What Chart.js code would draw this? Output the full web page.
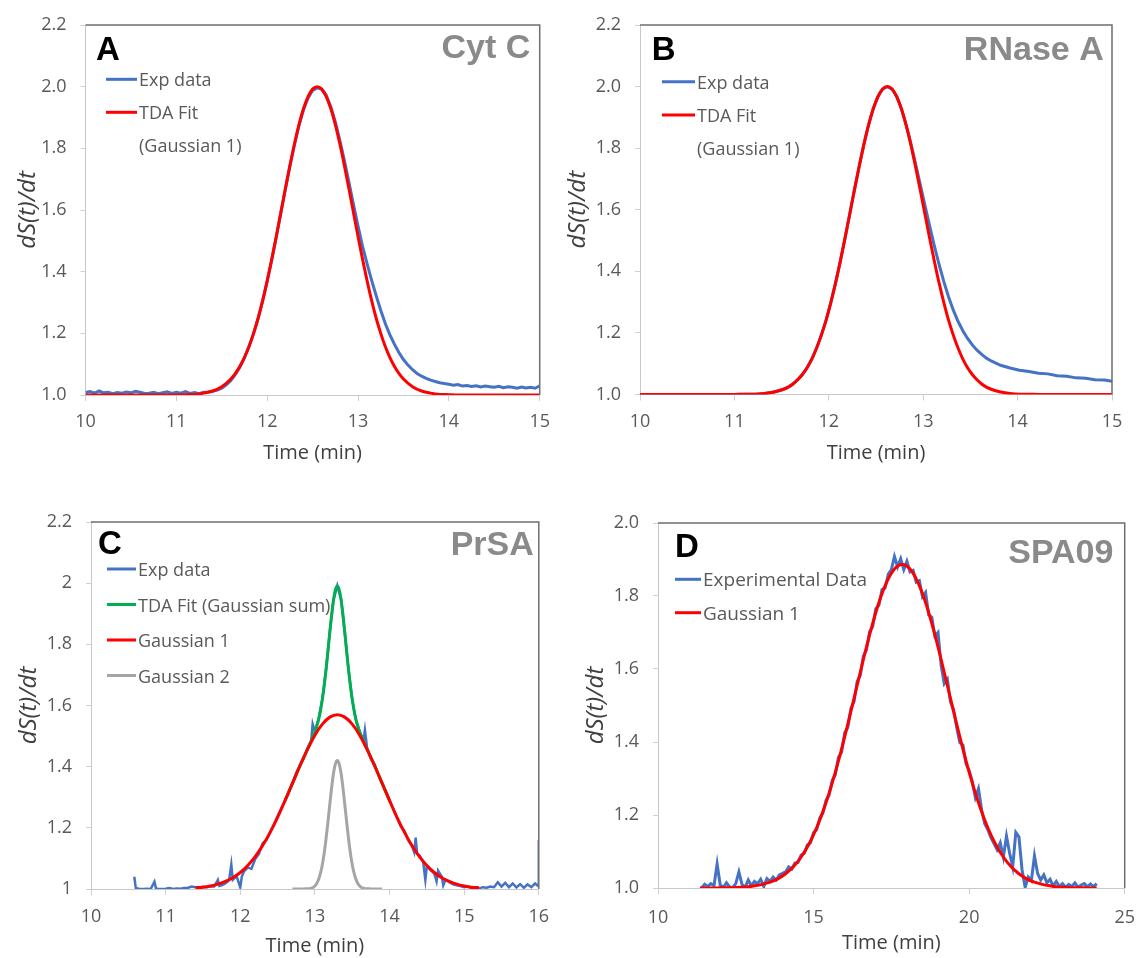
<!DOCTYPE html>
<html>
<head>
<meta charset="utf-8">
<title>TDA - dS(t)/dt</title>
<script src="https://cdn.jsdelivr.net/npm/chart.js@4.4.1/dist/chart.umd.min.js"></script>
<style>
  body { margin: 0; background: #fff; }
  #figura { position: relative; width: 1148px; height: 958px; overflow: hidden; }
  #figura canvas { position: absolute; }
</style>
</head>
<body>
<div id="figura">
  <canvas id="panelA" width="560" height="479" style="left:0;top:0"></canvas>
  <canvas id="panelB" width="588" height="479" style="left:560px;top:0"></canvas>
  <canvas id="panelC" width="560" height="479" style="left:0;top:479px"></canvas>
  <canvas id="panelD" width="588" height="479" style="left:560px;top:479px"></canvas>
</div>
<script>
// Panel A - Cyt C
var timeExpA = [10.00,10.05,10.10,10.15,10.20,10.25,10.30,10.35,10.40,10.45,10.50,10.55,10.60,10.65,10.70,10.75,10.80,10.85,10.90,10.95,
  11.00,11.05,11.10,11.15,11.20,11.25,11.30,11.35,11.40,11.45,11.50,11.55,11.60,11.65,11.70,11.75,11.80,11.85,11.90,11.95,
  12.00,12.05,12.10,12.15,12.20,12.25,12.30,12.35,12.40,12.45,12.50,12.55,12.60,12.65,12.70,12.75,12.80,12.85,12.90,12.95,
  13.00,13.05,13.10,13.15,13.20,13.25,13.30,13.35,13.40,13.45,13.50,13.55,13.60,13.65,13.70,13.75,13.80,13.85,13.90,13.95,
  14.00,14.05,14.10,14.15,14.20,14.25,14.30,14.35,14.40,14.45,14.50,14.55,14.60,14.65,14.70,14.75,14.80,14.85,14.90,14.95,15.00];
var expA = [1.008,1.011,1.006,1.013,1.007,1.009,1.004,1.008,1.006,1.010,1.007,1.012,1.009,1.005,1.006,1.009,1.004,1.007,1.010,1.005,
  1.009,1.006,1.011,1.005,1.008,1.004,1.009,1.010,1.012,1.016,1.022,1.033,1.047,1.067,1.091,1.121,1.157,1.199,1.248,1.305,
  1.368,1.438,1.512,1.590,1.667,1.742,1.811,1.874,1.925,1.963,1.988,1.996,1.992,1.972,1.935,1.886,1.826,1.760,1.690,1.618,
  1.548,1.482,1.425,1.372,1.322,1.275,1.232,1.196,1.165,1.138,1.115,1.097,1.082,1.070,1.061,1.054,1.048,1.044,1.040,1.037,
  1.035,1.032,1.034,1.029,1.031,1.028,1.030,1.026,1.029,1.027,1.025,1.028,1.024,1.027,1.025,1.022,1.026,1.023,1.025,1.022,1.030];
var timeFitA = [10.0,10.5,11.0,11.1,11.2,11.3,11.4,11.5,
  11.6,11.65,11.7,11.75,11.8,11.85,11.9,11.95,12.0,12.05,12.1,12.15,12.2,12.25,12.3,12.35,12.4,12.45,12.5,
  12.55,12.6,12.65,12.7,12.75,12.8,12.85,12.9,12.95,13.0,13.05,13.1,13.15,13.2,13.25,13.3,13.35,13.4,13.45,13.5,
  13.6,13.7,13.8,13.9,14.0,14.1,15.0];
var fitA = [1.000,1.000,1.000,1.001,1.002,1.006,1.013,1.027,
  1.052,1.070,1.093,1.122,1.157,1.200,1.249,1.306,1.370,1.440,1.514,1.591,1.669,1.744,1.814,1.877,1.929,1.968,1.992,
  2.000,1.992,1.968,1.929,1.877,1.814,1.744,1.669,1.591,1.514,1.440,1.370,1.306,1.249,1.200,1.157,1.122,1.093,1.070,1.052,
  1.027,1.013,1.006,1.002,1.001,1.000,1.000];

// Panel B - RNase A
var timeExpB = [10.0,10.5,11.0,11.12,11.22,11.32,11.42,11.52,
  11.57,11.62,11.67,11.72,11.77,11.82,11.87,11.92,11.97,12.02,12.07,12.12,12.17,12.22,12.27,12.32,12.37,12.42,12.47,12.52,12.57,
  12.62,12.67,12.72,12.77,12.82,
  12.87,12.92,12.97,13.02,13.07,13.12,13.17,13.22,13.27,13.32,13.37,13.42,13.47,13.52,13.57,13.62,13.67,13.72,
  13.82,13.92,14.02,14.12,14.22,14.32,14.42,14.52,14.62,14.72,14.82,14.92,15.0];
var expB = [1.000,1.000,1.000,1.001,1.001,1.003,1.008,1.017,
  1.024,1.034,1.048,1.065,1.087,1.115,1.150,1.192,1.240,1.297,1.360,1.430,1.505,1.583,1.662,1.738,1.810,1.874,1.927,1.967,1.992,
  2.000,1.992,1.967,1.927,1.874,
  1.815,1.748,1.680,1.612,1.545,1.480,1.420,1.365,1.316,1.273,1.237,1.207,1.182,1.161,1.144,1.130,1.118,1.109,
  1.095,1.086,1.079,1.075,1.069,1.067,1.061,1.059,1.054,1.053,1.048,1.047,1.043];
var timeFitB = [10.0,11.0,11.12,11.22,11.32,11.42,11.52,
  11.57,11.62,11.67,11.72,11.77,11.82,11.87,11.92,11.97,12.02,12.07,12.12,12.17,12.22,12.27,12.32,12.37,12.42,12.47,12.52,12.57,
  12.62,12.67,12.72,12.77,12.82,12.87,12.92,12.97,13.02,13.07,13.12,13.17,13.22,13.27,13.32,13.37,13.42,13.47,13.52,13.57,13.62,13.67,
  13.72,13.82,13.92,14.02,14.12,14.22,15.0];
var fitB = [1.000,1.000,1.001,1.001,1.003,1.008,1.017,
  1.024,1.034,1.048,1.065,1.087,1.115,1.150,1.192,1.240,1.297,1.360,1.430,1.505,1.583,1.662,1.738,1.810,1.874,1.927,1.967,1.992,
  2.000,1.992,1.967,1.927,1.874,1.810,1.738,1.662,1.583,1.505,1.430,1.360,1.297,1.240,1.192,1.150,1.115,1.087,1.065,1.048,1.034,1.024,
  1.017,1.008,1.003,1.001,1.001,1.000,1.000];

// Panel C - PrSA
var timeExpC = [10.58,10.60,10.65,10.70,10.75,10.80,10.85,10.87,10.90,10.95,11.00,11.05,11.10,11.15,11.20,11.25,11.30,11.35,11.40,11.45,
  11.50,11.55,11.60,11.65,11.70,11.72,11.75,11.80,11.85,11.88,11.90,11.95,12.00,12.02,12.05,12.10,12.15,12.20,12.25,12.30,
  12.35,12.40,12.45,12.50,12.55,12.60,12.65,12.70,12.75,12.80,12.85,12.90,12.95,12.97,13.00,13.05,13.10,13.15,13.20,13.25,
  13.30,13.35,13.40,13.45,13.50,13.55,13.60,13.65,13.67,13.70,13.75,13.80,13.85,13.90,13.95,14.00,14.05,14.10,14.15,14.20,
  14.25,14.30,14.33,14.35,14.37,14.40,14.45,14.48,14.50,14.55,14.60,14.63,14.65,14.70,14.72,14.75,14.80,14.85,14.90,14.95,
  15.00,15.05,15.10,15.15,15.20,15.25,15.30,15.35,15.40,15.45,15.50,15.55,15.60,15.65,15.70,15.75,15.80,15.85,15.90,15.95,15.99,16.00];
var expC = [1.040,1.003,1.000,1.000,1.001,1.000,1.024,1.002,1.000,1.000,1.001,1.003,1.000,1.002,1.001,1.003,1.004,1.008,1.006,1.004,
  1.007,1.006,1.009,1.008,1.030,1.010,1.012,1.018,1.028,1.080,1.030,1.042,1.005,1.040,1.058,1.070,1.066,1.098,1.115,1.150,
  1.160,1.185,1.210,1.238,1.265,1.290,1.316,1.345,1.380,1.405,1.428,1.460,1.485,1.540,1.515,1.558,1.622,1.720,1.842,1.945,
  1.992,1.948,1.838,1.718,1.620,1.552,1.515,1.484,1.520,1.460,1.425,1.408,1.375,1.345,1.320,1.292,1.262,1.234,1.205,1.190,
  1.160,1.140,1.120,1.168,1.115,1.110,1.090,1.030,1.075,1.062,1.050,1.025,1.060,1.040,1.012,1.030,1.022,1.015,1.012,1.010,
  1.006,1.008,1.003,1.005,1.002,1.006,1.004,1.008,1.006,1.022,1.008,1.020,1.006,1.018,1.005,1.016,1.004,1.015,1.006,1.018,1.010,1.160];
var timeSumC = [12.6,12.7,12.8,12.85,12.9,12.95,13.0,13.025,13.05,13.075,13.1,13.125,13.15,13.175,13.2,13.225,13.25,13.275,
  13.3,13.325,13.35,13.375,13.4,13.425,13.45,13.475,13.5,13.525,13.55,13.575,13.6,13.65,13.7,13.75,13.8,13.9,14.0];
var sumC = [1.289,1.346,1.403,1.430,1.457,1.484,1.513,1.532,1.554,1.583,1.620,1.665,1.718,1.778,1.840,1.899,1.947,1.979,
  1.990,1.979,1.947,1.899,1.840,1.778,1.718,1.665,1.620,1.583,1.554,1.532,1.513,1.484,1.457,1.430,1.403,1.346,1.289];
var timeG1C = [11.4,11.5,11.6,11.7,11.8,11.9,12.0,12.1,12.2,12.3,12.4,12.5,12.6,12.7,12.8,12.9,13.0,13.1,13.2,
  13.3,13.4,13.5,13.6,13.7,13.8,13.9,14.0,14.1,14.2,14.3,14.4,14.5,14.6,14.7,14.8,14.9,15.0,15.1,15.2];
var g1C = [1.004,1.006,1.010,1.016,1.025,1.037,1.054,1.077,1.106,1.142,1.185,1.234,1.289,1.346,1.403,1.456,1.503,1.539,1.562,
  1.570,1.562,1.539,1.503,1.456,1.403,1.346,1.289,1.234,1.185,1.142,1.106,1.077,1.054,1.037,1.025,1.016,1.010,1.006,1.004];
var timeG2C = [12.7,12.8,12.85,12.9,12.925,12.95,12.975,13.0,13.025,13.05,13.075,13.1,13.125,13.15,13.175,13.2,13.225,13.25,13.275,
  13.3,13.325,13.35,13.375,13.4,13.425,13.45,13.475,13.5,13.525,13.55,13.575,13.6,13.625,13.65,13.675,13.7,13.75,13.8,13.9];
var g2C = [1.000,1.000,1.000,1.001,1.001,1.003,1.005,1.010,1.018,1.032,1.052,1.080,1.118,1.166,1.220,1.278,1.333,1.379,1.409,
  1.420,1.409,1.379,1.333,1.278,1.220,1.166,1.118,1.080,1.052,1.032,1.018,1.010,1.005,1.003,1.001,1.001,1.000,1.000,1.000];

// Panel D - SPA09
var timeExpD = [11.4,11.5,11.6,11.7,11.8,11.9,12.0,12.1,12.2,12.3,12.4,12.5,12.6,12.7,12.8,12.9,13.0,13.1,13.2,13.3,
  13.4,13.5,13.6,13.7,13.8,13.9,14.0,14.1,14.2,14.3,14.4,14.5,14.6,14.7,14.8,14.9,15.0,15.1,15.2,15.3,
  15.4,15.5,15.6,15.7,15.8,15.9,16.0,16.1,16.2,16.3,16.4,16.5,16.6,16.7,16.8,16.9,17.0,17.1,17.2,17.3,
  17.4,17.5,17.6,17.7,17.8,17.9,18.0,18.1,18.2,18.3,18.4,18.5,18.6,18.7,18.8,18.9,19.0,19.1,19.2,19.3,
  19.4,19.5,19.6,19.7,19.8,19.9,20.0,20.1,20.2,20.3,20.4,20.5,20.6,20.7,20.8,20.9,21.0,21.1,21.2,21.3,
  21.4,21.5,21.6,21.7,21.8,21.9,22.0,22.1,22.2,22.3,22.4,22.5,22.6,22.7,22.8,22.9,23.0,23.1,23.2,23.3,
  23.4,23.5,23.6,23.7,23.8,23.9,24.0,24.1];
var expD = [1.000,1.010,1.004,1.012,1.006,1.066,1.008,1.002,1.014,1.003,1.001,1.012,1.044,1.010,1.002,1.022,1.006,1.018,1.012,1.024,
  1.004,1.026,1.018,1.030,1.022,1.036,1.040,1.044,1.058,1.052,1.068,1.070,1.090,1.095,1.118,1.124,1.152,1.160,1.192,1.205,
  1.240,1.255,1.295,1.310,1.358,1.372,1.425,1.440,1.492,1.510,1.566,1.582,1.635,1.652,1.702,1.716,1.765,1.775,1.818,1.822,
  1.860,1.872,1.908,1.880,1.902,1.872,1.895,1.866,1.870,1.838,1.842,1.798,1.810,1.748,1.742,1.690,1.700,1.610,1.560,1.572,
  1.510,1.488,1.440,1.398,1.392,1.340,1.322,1.292,1.248,1.272,1.215,1.176,1.160,1.138,1.122,1.105,1.124,1.085,1.142,1.096,
  1.058,1.152,1.140,1.050,1.002,1.030,1.020,1.088,1.040,1.022,1.036,1.014,1.024,1.006,1.018,1.004,1.012,1.002,1.010,1.004,
  1.014,1.002,1.008,1.012,1.003,1.011,1.004,1.012];
var timeFitD = [11.35,11.6,11.85,12.1,12.35,12.6,12.85,13.1,13.35,13.6,13.85,14.1,14.35,14.6,14.85,15.1,15.35,15.6,15.85,16.1,
  16.35,16.6,16.85,17.1,17.35,17.6,17.85,18.1,18.35,18.6,18.85,19.1,19.35,19.6,19.85,20.1,20.35,20.6,20.85,21.1,
  21.35,21.6,21.85,22.1,22.35,22.6,22.85,23.1,23.35,23.6,23.85,24.1];
var fitD = [1.000,1.000,1.000,1.001,1.001,1.002,1.003,1.006,1.010,1.016,1.025,1.039,1.058,1.085,1.120,1.165,1.221,1.288,1.364,1.449,
  1.537,1.626,1.709,1.782,1.838,1.874,1.886,1.874,1.838,1.782,1.709,1.626,1.537,1.449,1.364,1.288,1.221,1.165,1.120,1.085,
  1.058,1.039,1.025,1.016,1.010,1.006,1.003,1.002,1.001,1.001,1.000,1.000];

var AZUL = '#4472c4';
var ROJO = '#ff0000';
var VERDE = '#00b050';
var GRIS = '#a5a5a5';
var TEXTO = '#595959';

Chart.defaults.font.family = '"Open Sans", "DejaVu Sans", sans-serif';

function puntos(xs, ys) {
    var r = [];
    for (var i = 0; i < xs.length; i++) {
        r.push({ x: xs[i], y: ys[i] });
    }
    return r;
}

function serie(label, xs, ys, color, orden, ancho, suave) {
    return {
        label: label,
        data: puntos(xs, ys),
        borderColor: color,
        backgroundColor: color,
        borderWidth: ancho,
        pointRadius: 0,
        fill: false,
        order: orden,
        tension: 0,
        cubicInterpolationMode: suave ? 'monotone' : 'default'
    };
}

// marco superior/derecho, letra, titulo y leyenda dentro del area
var decor = {
    id: 'decor',
    afterDraw: function(chart, args, o) {
        var ctx = chart.ctx;
        var a = chart.chartArea;
        ctx.save();
        ctx.strokeStyle = '#6e6e6e';
        ctx.lineWidth = 1.5;
        ctx.beginPath();
        ctx.moveTo(a.left, a.top);
        ctx.lineTo(a.right, a.top);
        ctx.lineTo(a.right, a.bottom);
        ctx.stroke();

        ctx.textBaseline = 'alphabetic';
        ctx.fillStyle = '#000';
        ctx.font = 'bold 33px "Liberation Sans", Arial, sans-serif';
        ctx.textAlign = 'left';
        ctx.fillText(o.letter, a.left + o.letterX, a.top + o.letterY);

        ctx.fillStyle = '#8a8a8a';
        ctx.font = 'bold 34px "Liberation Sans", Arial, sans-serif';
        ctx.textAlign = 'right';
        ctx.fillText(o.title, a.right - o.titleX, a.top + o.titleY);

        ctx.font = o.legSize + 'px "Open Sans", sans-serif';
        ctx.textAlign = 'left';
        var y = a.top + o.legY;
        var x0 = a.left + o.legX;
        var ds = chart.data.datasets;
        for (var i = 0; i < ds.length; i++) {
            ctx.strokeStyle = ds[i].borderColor;
            ctx.lineWidth = 3;
            ctx.beginPath();
            ctx.moveTo(x0, y);
            ctx.lineTo(x0 + o.legLen, y);
            ctx.stroke();
            ctx.fillStyle = TEXTO;
            var lineas = ds[i].label.split('\n');
            for (var k = 0; k < lineas.length; k++) {
                ctx.fillText(lineas[k], x0 + o.legLen + 2, y + 7 + k * o.legGap);
            }
            y += o.legGap * lineas.length;
        }
        ctx.restore();
    }
};

function crearPanel(id, datasets, p) {
    new Chart(document.getElementById(id), {
        type: 'line',
        data: { datasets: datasets },
        options: {
            responsive: false,
            animation: false,
            devicePixelRatio: 1,
            layout: { padding: { left: 0, top: p.top, right: p.right, bottom: 0 } },
            plugins: {
                legend: { display: false },
                tooltip: { enabled: false },
                decor: p.decor
            },
            scales: {
                x: {
                    type: 'linear',
                    min: p.xMin,
                    max: p.xMax,
                    afterFit: function(s) { s.height = p.xHeight; },
                    ticks: {
                        stepSize: p.xStep,
                        autoSkip: false,
                        maxRotation: 0,
                        color: TEXTO,
                        font: { size: 18 },
                        padding: p.xPad
                    },
                    grid: { drawOnChartArea: false, drawTicks: true, tickLength: 6, color: '#d0d0d0' },
                    border: { display: true, color: '#c8c8c8', width: 1 },
                    title: {
                        display: true,
                        text: 'Time (min)',
                        color: '#404040',
                        font: { size: 20 },
                        padding: { top: 0, bottom: p.xTitlePad }
                    }
                },
                y: {
                    type: 'linear',
                    min: p.yMin,
                    max: p.yMax,
                    afterFit: function(s) { s.width = p.yWidth; },
                    ticks: {
                        stepSize: 0.2,
                        color: TEXTO,
                        font: { size: 18 },
                        padding: 14,
                        callback: p.yFormat
                    },
                    grid: { drawOnChartArea: false, drawTicks: true, tickLength: 5, color: '#d0d0d0' },
                    border: { display: true, color: '#c8c8c8', width: 1 },
                    title: {
                        display: true,
                        text: 'dS(t)/dt',
                        color: '#404040',
                        font: { size: 24, style: 'italic' },
                        padding: { top: p.yTitlePad, bottom: 0 }
                    }
                }
            }
        },
        plugins: [decor]
    });
}

function unDecimal(v) { return v.toFixed(1); }
function sinCeros(v) { return String(Math.round(v * 10) / 10); }

crearPanel('panelA', [
    serie('Exp data', timeExpA, expA, AZUL, 2, 3, false),
    serie('TDA Fit\n(Gaussian 1)', timeFitA, fitA, ROJO, 1, 3, true)
], {
    top: 25, right: 14, yWidth: 85.5, xHeight: 84, xPad: 10, xTitlePad: 14, yTitlePad: 13.6,
    xMin: 10, xMax: 15, xStep: 1, yMin: 1, yMax: 2.2, yFormat: unDecimal,
    decor: { letter: 'A', letterX: 10.5, letterY: 34.5, title: 'Cyt C', titleX: 9.5, titleY: 33,
             legX: 20.5, legY: 54.3, legLen: 31, legGap: 33, legSize: 18 }
});

crearPanel('panelB', [
    serie('Exp data', timeExpB, expB, AZUL, 2, 3, false),
    serie('TDA Fit\n(Gaussian 1)', timeFitB, fitB, ROJO, 1, 3, true)
], {
    top: 25, right: 36, yWidth: 80, xHeight: 84.5, xPad: 10.4, xTitlePad: 14, yTitlePad: 3.6,
    xMin: 10, xMax: 15, xStep: 1, yMin: 1, yMax: 2.2, yFormat: unDecimal,
    decor: { letter: 'B', letterX: 11.8, letterY: 35, title: 'RNase A', titleX: 8.3, titleY: 35,
             legX: 22, legY: 56.7, legLen: 33, legGap: 33.3, legSize: 18 }
});

crearPanel('panelC', [
    serie('Exp data', timeExpC, expC, AZUL, 4, 2.5, false),
    serie('TDA Fit (Gaussian sum)', timeSumC, sumC, VERDE, 3, 3, true),
    serie('Gaussian 1', timeG1C, g1C, ROJO, 2, 3, true),
    serie('Gaussian 2', timeG2C, g2C, GRIS, 1, 3, true)
], {
    top: 43, right: 13, yWidth: 91, xHeight: 69, xPad: 10.9, xTitlePad: 0, yTitlePad: 14.6,
    xMin: 10, xMax: 16, xStep: 1, yMin: 1, yMax: 2.2, yFormat: sinCeros,
    decor: { letter: 'C', letterX: 7, letterY: 31.5, title: 'PrSA', titleX: 5, titleY: 33,
             legX: 16, legY: 47, legLen: 29, legGap: 35.5, legSize: 18 }
});

crearPanel('panelD', [
    serie('Experimental Data', timeExpD, expD, AZUL, 2, 3, false),
    serie('Gaussian 1', timeFitD, fitD, ROJO, 1, 3, true)
], {
    top: 44, right: 12, yWidth: 98, xHeight: 70, xPad: 13, xTitlePad: 3, yTitlePad: 21.6,
    xMin: 10, xMax: 25, xStep: 5, yMin: 1, yMax: 2, yFormat: unDecimal,
    decor: { letter: 'D', letterX: 17, letterY: 33.7, title: 'SPA09', titleX: 11.3, titleY: 40,
             legX: 17, legY: 56.3, legLen: 26, legGap: 33.4, legSize: 19 }
});
</script>
</body>
</html>
